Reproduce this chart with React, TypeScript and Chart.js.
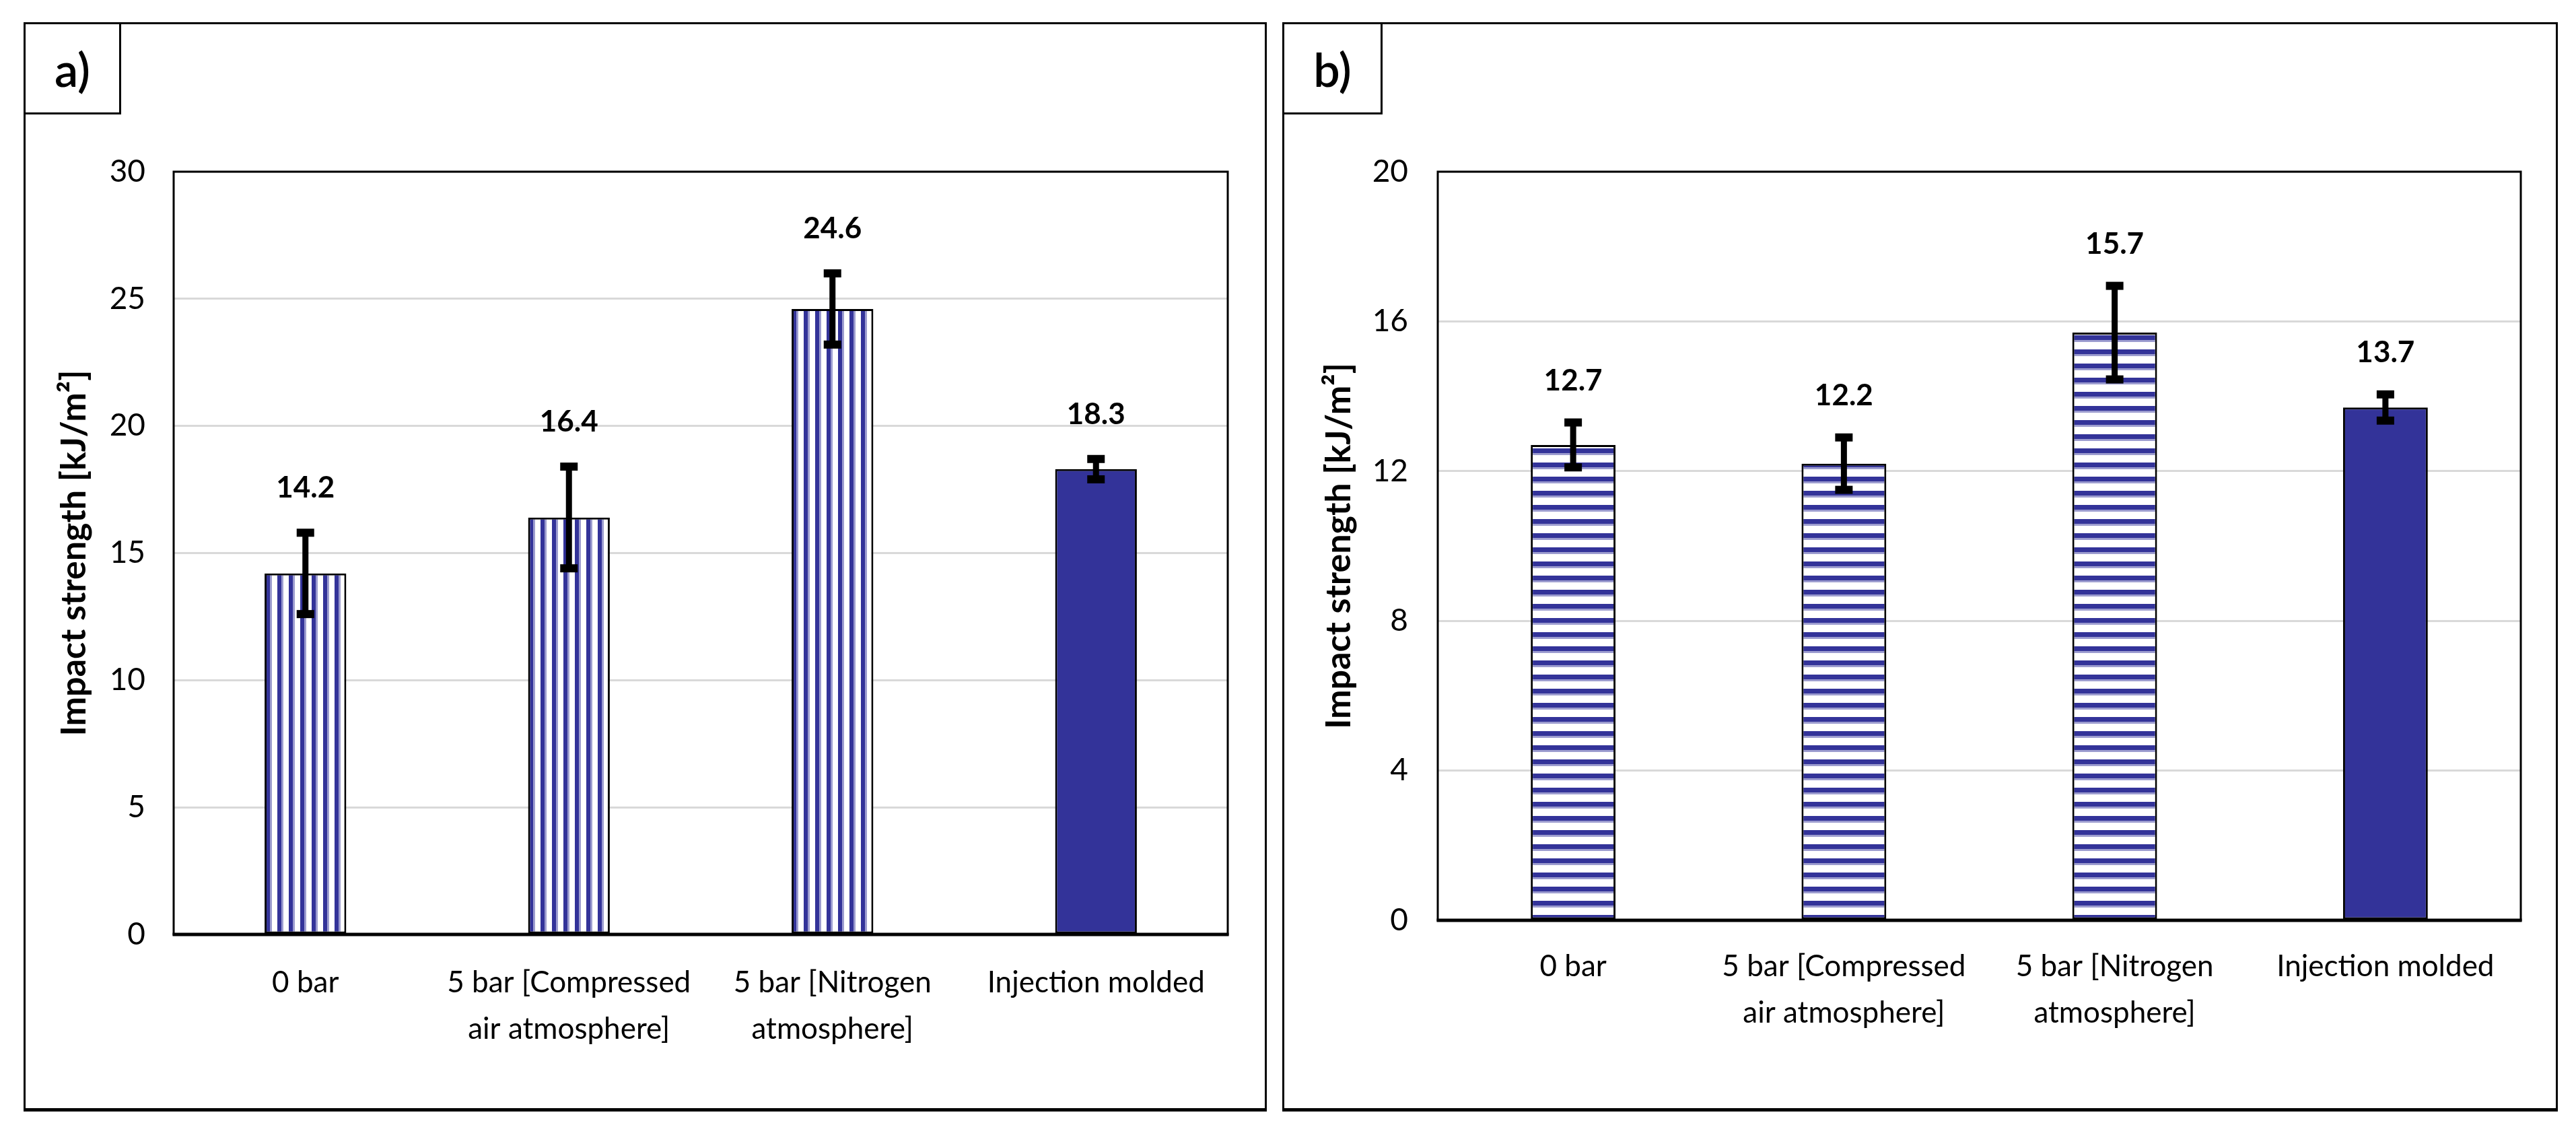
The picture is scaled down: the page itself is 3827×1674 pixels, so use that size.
import React, { useEffect, useRef } from "react";
import { Chart, registerables } from "chart.js";

Chart.register(...registerables);

// ---------- data ----------
const categories: string[][] = [
  ["0 bar"],
  ["5 bar [Compressed", "air atmosphere]"],
  ["5 bar [Nitrogen", "atmosphere]"],
  ["Injection molded"],
];
const valuesA = [14.2, 16.4, 24.6, 18.3];
const errorsA = [1.6, 2.0, 1.4, 0.4];
const valuesB = [12.7, 12.2, 15.7, 13.7];
const errorsB = [0.6, 0.7, 1.25, 0.35];
const yMinA = 0;
const yMaxA = 30;
const yStepA = 5;
const yMinB = 0;
const yMaxB = 20;
const yStepB = 4;
const yTitle = "Impact strength [kJ/m²]";
const panelLabels = ["a)", "b)"];

// ---------- styles ----------
const NAVY = "#333399";
const LIGHT = "#9c9ccf";
const FONT = "Lato, 'Open Sans', sans-serif";

function stripePattern(vertical: boolean): CanvasPattern | string {
  const period = vertical ? 17 : 21;
  const c = document.createElement("canvas");
  c.width = vertical ? period : 4;
  c.height = vertical ? 4 : period;
  const g = c.getContext("2d");
  if (!g) return NAVY;
  g.fillStyle = "#ffffff";
  g.fillRect(0, 0, c.width, c.height);
  const segs: [number, number, string][] = vertical
    ? [[0, 6, NAVY], [6, 3, LIGHT]]
    : [[0, 7, NAVY], [7, 3, LIGHT]];
  for (const [s, w, col] of segs) {
    g.fillStyle = col;
    if (vertical) g.fillRect(s, 0, w, c.height);
    else g.fillRect(0, s, c.width, w);
  }
  const p = g.createPattern(c, "repeat");
  return p || NAVY;
}

const overlayPlugin = {
  id: "overlay",
  afterDatasetsDraw(chart: any, _args: any, opts: any) {
    const { ctx, chartArea } = chart;
    const yScale = chart.scales.y;
    const meta = chart.getDatasetMeta(0);
    const vals: number[] = opts.values;
    const errs: number[] = opts.errors;
    ctx.save();
    // plot area frame
    ctx.strokeStyle = "#000";
    ctx.lineWidth = 3;
    ctx.strokeRect(
      chartArea.left,
      chartArea.top,
      chartArea.right - chartArea.left,
      chartArea.bottom - chartArea.top
    );
    ctx.lineWidth = 5;
    ctx.beginPath();
    ctx.moveTo(chartArea.left - 1.5, chartArea.bottom);
    ctx.lineTo(chartArea.right + 1.5, chartArea.bottom);
    ctx.stroke();
    // error bars and value labels
    meta.data.forEach((bar: any, i: number) => {
      const x = bar.x;
      const yt = yScale.getPixelForValue(vals[i] + errs[i]);
      const yb = yScale.getPixelForValue(vals[i] - errs[i]);
      ctx.fillStyle = "#000";
      ctx.fillRect(x - 4.5, yt, 9, yb - yt);
      ctx.fillRect(x - 13, yt - 6, 26, 12);
      ctx.fillRect(x - 13, yb - 6, 26, 12);
      ctx.font = `bold 44px ${FONT}`;
      ctx.textAlign = "center";
      ctx.textBaseline = "middle";
      ctx.fillText(vals[i].toFixed(1), x, yt - opts.labelGap);
    });
    ctx.restore();
  },
};

interface PanelProps {
  left: number;
  top: number;
  width: number;
  height: number;
  label: string;
  values: number[];
  errors: number[];
  yMin: number;
  yMax: number;
  yStep: number;
  vertical: boolean;
  yAxisWidth: number;
  xAxisHeight: number;
  padTop: number;
  padRight: number;
  tickPad: number;
  titlePad: number;
  xLabelPad: number;
  barPct: number;
  labelGap: number;
  labelBoxW: number;
}

function Panel(p: PanelProps) {
  const ref = useRef<HTMLCanvasElement>(null);
  const cw = p.width - 6;
  const ch = p.height - 8;
  useEffect(() => {
    if (!ref.current) return;
    const pat = stripePattern(p.vertical);
    const chart = new Chart(ref.current, {
      type: "bar",
      data: {
        labels: categories,
        datasets: [
          {
            data: p.values,
            backgroundColor: [pat, pat, pat, NAVY] as any,
            borderColor: "#000",
            borderWidth: 3,
            borderSkipped: false,
            barPercentage: p.barPct,
            categoryPercentage: 1,
          },
        ],
      },
      options: {
        animation: false,
        responsive: false,
        maintainAspectRatio: false,
        events: [],
        layout: { padding: { top: p.padTop, right: p.padRight, left: 0, bottom: 0 } },
        plugins: {
          legend: { display: false },
          tooltip: { enabled: false },
          title: { display: false },
          overlay: { values: p.values, errors: p.errors, labelGap: p.labelGap },
        } as any,
        scales: {
          x: {
            grid: { display: false, drawTicks: false },
            border: { display: false },
            ticks: {
              color: "#000",
              font: { family: FONT, size: 44, lineHeight: 1.58 },
              padding: p.xLabelPad,
              maxRotation: 0,
              minRotation: 0,
              autoSkip: false,
            },
            afterFit: (s: any) => {
              s.height = p.xAxisHeight;
            },
          },
          y: {
            min: p.yMin,
            max: p.yMax,
            grid: { color: "#d9d9d9", lineWidth: 3, drawTicks: false },
            border: { display: false },
            ticks: {
              stepSize: p.yStep,
              color: "#000",
              font: { family: FONT, size: 46 },
              padding: p.tickPad,
            },
            title: {
              display: true,
              text: yTitle,
              color: "#000",
              font: { family: FONT, size: 52, weight: "bold" },
              padding: { top: p.titlePad, bottom: 0 },
            },
            afterFit: (s: any) => {
              s.width = p.yAxisWidth;
            },
          },
        },
      },
      plugins: [overlayPlugin as any],
    });
    let alive = true;
    if ((document as any).fonts && (document as any).fonts.ready) {
      (document as any).fonts.ready.then(() => {
        if (alive) chart.update();
      });
    }
    return () => {
      alive = false;
      chart.destroy();
    };
  }, []);

  return (
    <div
      style={{
        position: "absolute",
        left: p.left,
        top: p.top,
        width: p.width,
        height: p.height,
        boxSizing: "border-box",
        border: "3px solid #000",
        borderBottomWidth: 5,
        background: "#fff",
      }}
    >
      <canvas
        ref={ref}
        width={cw}
        height={ch}
        style={{ position: "absolute", left: 0, top: 0, width: cw, height: ch }}
      />
      <div
        style={{
          position: "absolute",
          left: -3,
          top: -3,
          width: p.labelBoxW,
          height: 137,
          boxSizing: "border-box",
          border: "3px solid #000",
          background: "#fff",
          display: "flex",
          alignItems: "center",
          justifyContent: "center",
          fontFamily: FONT,
          fontSize: 70,
          fontWeight: 600,
          color: "#000",
          lineHeight: 1,
        }}
      >
        {p.label}
      </div>
    </div>
  );
}

export default function App() {
  return (
    <div
      style={{
        position: "absolute",
        left: 0,
        top: 0,
        width: 3827,
        height: 1674,
        background: "#fff",
        overflow: "hidden",
      }}
    >
      <Panel
        left={35}
        top={33}
        width={1847}
        height={1618}
        label={panelLabels[0]}
        values={valuesA}
        errors={errorsA}
        yMin={yMinA}
        yMax={yMaxA}
        yStep={yStepA}
        vertical={true}
        yAxisWidth={220}
        xAxisHeight={258}
        padTop={219}
        padRight={55}
        tickPad={42}
        titlePad={41}
        xLabelPad={37}
        barPct={0.31}
        labelGap={66}
        labelBoxW={145}
      />
      <Panel
        left={1905}
        top={33}
        width={1895}
        height={1618}
        label={panelLabels[1]}
        values={valuesB}
        errors={errorsB}
        yMin={yMinB}
        yMax={yMaxB}
        yStep={yStepB}
        vertical={false}
        yAxisWidth={228}
        xAxisHeight={279}
        padTop={219}
        padRight={52}
        tickPad={44}
        titlePad={50}
        xLabelPad={34}
        barPct={0.313}
        labelGap={62}
        labelBoxW={149}
      />
    </div>
  );
}
